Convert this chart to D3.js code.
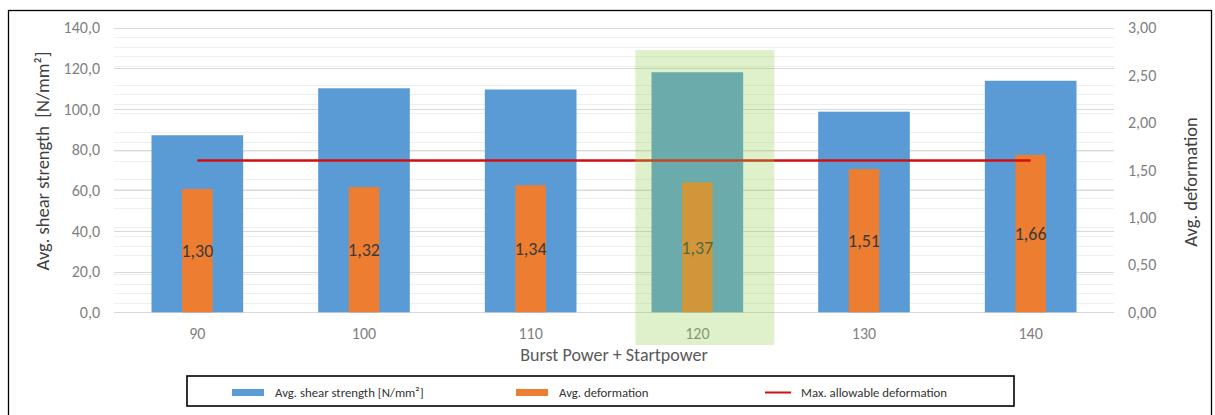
<!DOCTYPE html>
<html>
<head>
<meta charset="utf-8">
<script src="https://cdn.jsdelivr.net/npm/d3@7"></script>
<style>
  html, body { margin: 0; padding: 0; background: #fff; }
  svg { display: block; font-family: "Carlito", "Liberation Sans Narrow", "Liberation Sans", sans-serif; }
</style>
</head>
<body>
<svg id="chart" width="1215" height="415"></svg>
<script>
// Burst power settings (x categories)
const categories = ["90", "100", "110", "120", "130", "140"];
// Average shear strength per setting [N/mm²] (left axis)
const shearStrength = [87.1, 110.2, 109.6, 118.1, 98.7, 113.9];
// Average deformation per setting (right axis)
const deformation = [1.30, 1.32, 1.34, 1.37, 1.51, 1.66];
// Maximum allowable deformation, constant across settings
const maxDeformation = categories.map(() => 1.60);
// Highlighted setting
const highlighted = "120";
// Axis ticks
const leftTicks = [0, 20, 40, 60, 80, 100, 120, 140];
const rightTicks = [0, 0.5, 1, 1.5, 2, 2.5, 3];

const svg = d3.select("#chart");
const plot = { left: 114, right: 1114, top: 27.7, bottom: 312.3 };

const x = d3.scaleBand().domain(categories).range([plot.left, plot.right])
  .paddingInner(0.45).paddingOuter(0.225);
const xc = d => x(d) + x.bandwidth() / 2;
const yL = d3.scaleLinear().domain([0, 140]).range([plot.bottom, plot.top]);
const yR = d3.scaleLinear().domain([0, 3]).range([plot.bottom, plot.top]);

const fmt1 = v => d3.format(".1f")(v).replace(".", ",");
const fmt2 = v => d3.format(".2f")(v).replace(".", ",");

// Outer frame
svg.append("rect").attr("x", 8.5).attr("y", 10.5).attr("width", 1203).attr("height", 410)
  .attr("fill", "none").attr("stroke", "#000").attr("stroke-width", 1.3);

// Minor gridlines (every 0.1 on the deformation scale)
const minor = d3.range(0, 3.0001, 0.1).filter(v => Math.abs(v * 2 - Math.round(v * 2)) > 1e-6);
svg.append("g").selectAll("line").data(minor).join("line")
  .attr("x1", plot.left).attr("x2", plot.right)
  .attr("y1", d => Math.round(yR(d)) + 0.5).attr("y2", d => Math.round(yR(d)) + 0.5)
  .attr("stroke", "#efefef").attr("stroke-width", 1);

// Major gridlines
svg.append("g").selectAll("line").data(leftTicks).join("line")
  .attr("x1", plot.left).attr("x2", plot.right)
  .attr("y1", d => Math.round(yL(d)) + 0.5).attr("y2", d => Math.round(yL(d)) + 0.5)
  .attr("stroke", "#d9d9d9").attr("stroke-width", 1);

// Shear strength bars
svg.append("g").selectAll("rect").data(categories).join("rect")
  .attr("x", d => x(d)).attr("width", x.bandwidth())
  .attr("y", (d, i) => yL(shearStrength[i]))
  .attr("height", (d, i) => yL(0) - yL(shearStrength[i]))
  .attr("fill", "#5b9bd5");

// Deformation bars
const ow = x.bandwidth() * 0.332;
svg.append("g").selectAll("rect").data(categories).join("rect")
  .attr("x", d => xc(d) - ow / 2).attr("width", ow)
  .attr("y", (d, i) => yR(deformation[i]))
  .attr("height", (d, i) => yR(0) - yR(deformation[i]))
  .attr("fill", "#ed7d31");

// Maximum allowable deformation line
const line = d3.line().x((d, i) => xc(categories[i])).y(d => yR(d));
svg.append("path").datum(maxDeformation).attr("d", line)
  .attr("fill", "none").attr("stroke", "#d01010").attr("stroke-width", 2.4);

// Deformation value labels, centred in each bar
svg.append("g").selectAll("text").data(categories).join("text")
  .attr("x", d => xc(d))
  .attr("y", (d, i) => (yR(deformation[i]) + yR(0)) / 2)
  .attr("dy", "0.35em").attr("text-anchor", "middle")
  .attr("font-size", 18).attr("fill", "#3a3a3a")
  .text((d, i) => fmt2(deformation[i]));

// Left axis labels
svg.append("g").selectAll("text").data(leftTicks).join("text")
  .attr("x", 100).attr("y", d => yL(d)).attr("dy", "0.35em")
  .attr("text-anchor", "end").attr("font-size", 16).attr("fill", "#7f7f7f")
  .text(fmt1);

// Right axis labels
svg.append("g").selectAll("text").data(rightTicks).join("text")
  .attr("x", 1128).attr("y", d => yR(d)).attr("dy", "0.35em")
  .attr("text-anchor", "start").attr("font-size", 16).attr("fill", "#7f7f7f")
  .text(fmt2);

// Category labels
svg.append("g").selectAll("text").data(categories).join("text")
  .attr("x", d => xc(d)).attr("y", 333).attr("dy", "0.35em")
  .attr("text-anchor", "middle").attr("font-size", 16).attr("fill", "#7f7f7f")
  .text(d => d);

// Axis titles
svg.append("text").attr("transform", "translate(49,161) rotate(-90)")
  .attr("text-anchor", "middle").attr("font-size", 18.5).attr("fill", "#404040")
  .attr("xml:space", "preserve")
  .text("Avg. shear strength  [N/mm²]");
svg.append("text").attr("transform", "translate(1197,182) rotate(-90)")
  .attr("text-anchor", "middle").attr("font-size", 18.5).attr("fill", "#404040")
  .text("Avg. deformation");
svg.append("text").attr("x", 614).attr("y", 355).attr("dy", "0.35em")
  .attr("text-anchor", "middle").attr("font-size", 18).attr("fill", "#595959")
  .text("Burst Power + Startpower");

// Highlight box over the selected setting
svg.append("rect")
  .attr("x", xc(highlighted) - 62).attr("width", 139)
  .attr("y", 50).attr("height", 295)
  .attr("fill", "#92d050").attr("fill-opacity", 0.3);

// Legend
const lg = svg.append("g");
lg.append("rect").attr("x", 187).attr("y", 376).attr("width", 827).attr("height", 30)
  .attr("fill", "#fff").attr("stroke", "#000").attr("stroke-width", 1.6);
const legendItems = [
  { type: "bar", color: "#5b9bd5", label: "Avg. shear strength [N/mm²]", x: 232 },
  { type: "bar", color: "#ed7d31", label: "Avg. deformation", x: 516 },
  { type: "line", color: "#d01010", label: "Max. allowable deformation", x: 765 }
];
legendItems.forEach(it => {
  if (it.type === "bar") {
    lg.append("rect").attr("x", it.x).attr("y", 389).attr("width", 32).attr("height", 7).attr("fill", it.color);
  } else {
    lg.append("line").attr("x1", it.x).attr("x2", it.x + 26).attr("y1", 392.5).attr("y2", 392.5)
      .attr("stroke", it.color).attr("stroke-width", 2);
  }
  lg.append("text").attr("x", it.x + (it.type === "bar" ? 43 : 36)).attr("y", 393).attr("dy", "0.35em")
    .attr("font-size", 12.8).attr("fill", "#333").text(it.label);
});
</script>
</body>
</html>
